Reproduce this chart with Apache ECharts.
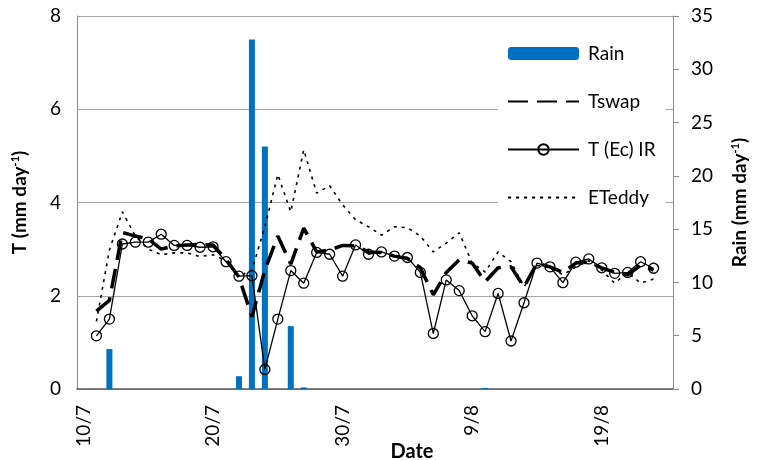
<!DOCTYPE html>
<html>
<head>
<meta charset="utf-8">
<script src="https://cdn.jsdelivr.net/npm/echarts@6/dist/echarts.min.js"></script>
<style>html,body{margin:0;padding:0;background:#fff;}#c{width:759px;height:460px;}</style>
</head>
<body>
<div id="c"></div>
<script>
const dates = ["10/7","11/7","12/7","13/7","14/7","15/7","16/7","17/7","18/7","19/7","20/7","21/7","22/7","23/7","24/7","25/7","26/7","27/7","28/7","29/7","30/7","31/7","1/8","2/8","3/8","4/8","5/8","6/8","7/8","8/8","9/8","10/8","11/8","12/8","13/8","14/8","15/8","16/8","17/8","18/8","19/8","20/8","21/8","22/8","23/8","24/8"];
const rain = [0,0,3.75,0,0,0,0,0,0,0,0,0,1.2,32.8,22.75,0,5.9,0.15,0,0,0,0,0,0,0,0,0,0,0,0,0,0.1,0,0,0,0,0,0,0,0,0,0,0,0,0,0];
const tswap = [null,1.67,1.9,3.36,3.28,3.22,3.0,3.07,3.09,3.1,3.09,2.78,2.4,1.55,2.55,3.28,2.68,3.45,2.94,2.98,3.08,3.07,2.94,2.93,2.85,2.8,2.6,2.02,2.5,2.77,2.7,2.3,2.6,2.62,2.19,2.7,2.62,2.5,2.7,2.72,2.6,2.5,2.45,2.65,2.55,null];
const tEcIR = [null,1.14,1.50,3.11,3.15,3.15,3.32,3.08,3.08,3.04,3.05,2.73,2.42,2.43,0.42,1.50,2.54,2.27,2.93,2.89,2.42,3.09,2.89,2.94,2.85,2.82,2.50,1.19,2.34,2.11,1.57,1.23,2.05,1.03,1.85,2.70,2.62,2.28,2.72,2.79,2.60,2.48,2.50,2.73,2.59,null];
const eTeddy = [null,1.45,2.98,3.8,3.28,3.0,2.88,2.92,2.92,2.84,2.88,2.75,2.42,2.55,3.48,4.6,3.8,5.13,4.2,4.36,3.95,3.63,3.48,3.3,3.48,3.46,3.28,2.94,3.13,3.35,2.7,2.51,2.94,2.73,2.19,2.65,2.6,2.45,2.62,2.75,2.55,2.27,2.5,2.27,2.36,null];

const FONT = 'Lato';
const chart = echarts.init(document.getElementById('c'), null, {renderer: 'canvas'});
const nameRich = {
  a: {fontFamily: FONT, fontWeight: 'bold', fontSize: 19, color: '#000'},
  s: {fontFamily: FONT, fontWeight: 'bold', fontSize: 11, color: '#000', verticalAlign: 'top', padding: [0,0,8,0]}
};
chart.setOption({
  animation: false,
  backgroundColor: '#fff',
  textStyle: {fontFamily: FONT},
  grid: {left: 77, right: 86, top: 16, bottom: 71, containLabel: false, outerBoundsMode: 'none'},
  legend: {
    orient: 'vertical',
    left: 498, top: 34,
    backgroundColor: '#fff',
    padding: [10, 10, 10, 9],
    itemWidth: 71, itemHeight: 13, itemGap: 29,
    textStyle: {fontFamily: FONT, fontSize: 19, color: '#000', padding: [0,0,0,4]},
    data: [
      {name: 'Rain'},
      {name: 'Tswap', itemStyle: {opacity: 0}},
      {name: 'T (Ec) IR'},
      {name: 'ETeddy', itemStyle: {opacity: 0}}
    ]
  },
  xAxis: {
    type: 'category',
    data: dates,
    boundaryGap: true,
    axisLine: {lineStyle: {color: '#595959', width: 1.5}},
    axisTick: {show: false},
    axisLabel: {interval: 9, rotate: 90, fontFamily: FONT, fontSize: 19, color: '#000', margin: 16},
    name: 'Date',
    nameLocation: 'middle',
    nameGap: 53,
    nameMoveOverlap: false,
    nameTextStyle: {fontFamily: FONT, fontWeight: 'bold', fontSize: 20, color: '#000', padding: [0,0,0,74]}
  },
  yAxis: [
    {
      type: 'value', min: 0, max: 8, interval: 2,
      axisLine: {show: true, lineStyle: {color: '#8c8c8c'}},
      axisTick: {show: false},
      splitLine: {show: true, lineStyle: {color: '#a6a6a6', width: 1.2}},
      axisLabel: {fontFamily: FONT, fontSize: 19, color: '#000', margin: 16},
      name: '{a|T (mm day}{s|-1}{a|)}',
      nameLocation: 'middle', nameGap: 48, nameMoveOverlap: false,
      nameTextStyle: {rich: nameRich}
    },
    {
      type: 'value', min: 0, max: 35, interval: 5,
      position: 'right',
      axisLine: {show: true, lineStyle: {color: '#8c8c8c'}},
      axisTick: {show: true, inside: false, length: 6, lineStyle: {color: '#8c8c8c'}},
      splitLine: {show: false},
      axisLabel: {fontFamily: FONT, fontSize: 19, color: '#000', margin: 18},
      name: '{a|Rain (mm day}{s|-1}{a|)}',
      nameLocation: 'middle', nameGap: 57, nameMoveOverlap: false,
      nameTextStyle: {rich: nameRich}
    }
  ],
  series: [
    {
      name: 'Rain', type: 'bar', yAxisIndex: 1, data: rain,
      barWidth: 6, itemStyle: {color: '#0070C0'}, z: 1
    },
    {
      name: 'Tswap', type: 'line', yAxisIndex: 0, data: tswap,
      symbol: 'none', connectNulls: false,
      lineStyle: {color: '#000', width: 3.5, type: [20, 9]},
      itemStyle: {color: '#000'}, z: 3
    },
    {
      name: 'T (Ec) IR', type: 'line', yAxisIndex: 0, data: tEcIR,
      symbol: 'circle', symbolSize: 10, showAllSymbol: true,
      lineStyle: {color: '#000', width: 1.3},
      itemStyle: {color: 'rgba(255,255,255,0)', borderColor: '#000', borderWidth: 1.3}, z: 4
    },
    {
      name: 'ETeddy', type: 'line', yAxisIndex: 0, data: eTeddy,
      symbol: 'none',
      lineStyle: {color: '#000', width: 1.6, type: [3, 5]},
      itemStyle: {color: '#000'}, z: 2
    }
  ]
});
</script>
</body>
</html>
